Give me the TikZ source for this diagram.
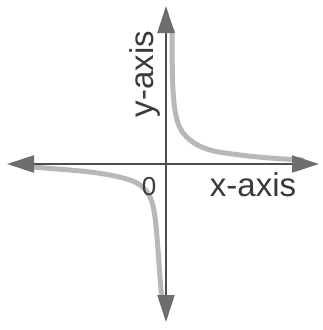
\documentclass[tikz,border=0pt]{standalone}
\usepackage{fontspec}
\setmainfont{Liberation Sans}
\usetikzlibrary{arrows.meta}
\definecolor{axiscol}{HTML}{4E4E4E}
\definecolor{tipcol}{HTML}{6E6E6E}
\definecolor{curvecol}{HTML}{B8B8B8}
\definecolor{textcol}{HTML}{3A3A3A}
\tikzset{
  axisline/.style={draw=axiscol, line width=2.2pt,
    {Triangle[length=27pt,width=17pt,color=tipcol,fill=tipcol]}-{Triangle[length=27pt,width=17pt,color=tipcol,fill=tipcol]}},
  branch/.style={draw=curvecol, line width=5pt, line cap=round},
  lbl/.style={text=textcol, inner sep=0pt, font=\fontsize{33}{36}\selectfont},
  zero/.style={text=textcol, inner sep=0pt, font=\fontsize{26}{28}\selectfont}
}
\begin{document}
\begin{tikzpicture}[x=1pt,y=-1pt]
\useasboundingbox (0,0) rectangle (322,330);
% branches
\draw[branch] plot[smooth, tension=0.6] coordinates {(172,30) (173,90) (178,123) (190,140) (210,150) (240,155) (270,158) (302,160)};
\draw[branch] plot[smooth, tension=0.6] coordinates {(32,167) (90,172) (123,178) (140,185) (150,197) (155,217) (158,250) (161,290) (163,302)};
% axes
\coordinate (xl) at (7,164);
\coordinate (xr) at (319,164);
\coordinate (yt) at (166,6);
\coordinate (yb) at (166,322);
\draw[axisline] (xl) -- (xr);
\draw[axisline] (yb) -- (yt);
% labels
\node[lbl, rotate=90] (ylab) at (145,74) {y-axis};
\node[lbl] (xlab) at (253,185) {x-axis};
\node[zero] (o) at (149,187) {0};
\end{tikzpicture}
\end{document}
